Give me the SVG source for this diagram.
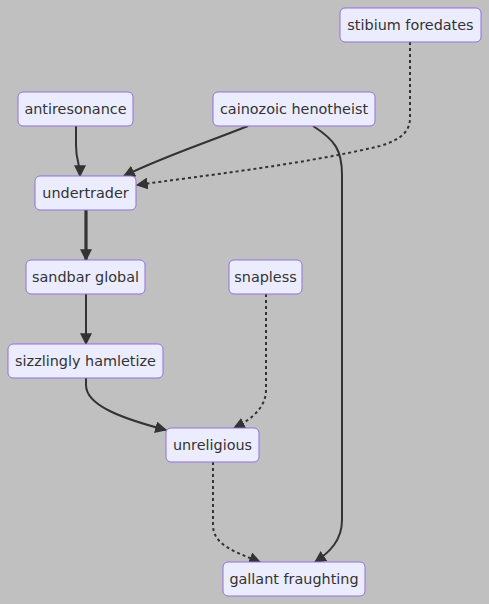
<svg xmlns="http://www.w3.org/2000/svg" width="489" height="604" viewBox="0 0 489 604">
<style>
.node rect{fill:#ECECFF;stroke:#9370DB;stroke-width:1}
.node text{font-family:"DejaVu Sans",Verdana,sans-serif;font-size:14.4px;fill:#333;text-anchor:middle;dominant-baseline:central}
.edge{fill:none;stroke:#333;stroke-width:2}
.thick{stroke-width:3.2}
.dot{stroke-dasharray:3 3}
</style>
<defs>
<marker id="arr" viewBox="0 0 10 10" refX="9" refY="5" markerUnits="userSpaceOnUse" markerWidth="12" markerHeight="12" orient="auto"><path d="M0,0 L10,5 L0,10 z" fill="#333"/></marker>
</defs>
<rect width="489" height="604" fill="#c0c0c0"/>
<g id="edges">
<path class="edge" d="M76,126 L76,145 C76,162 80,162 80,176" marker-end="url(#arr)"/>
<path class="edge" d="M248,126 C200,145 160,158 124,176" marker-end="url(#arr)"/>
<path class="edge dot" d="M410,42 L410,118 C410,132 400,140 380,146 C300,165 200,176 137,185" marker-end="url(#arr)"/>
<path class="edge" d="M313,126 C335,140 342,150 342,175 L342,520 C342,540 330,552 315,562" marker-end="url(#arr)"/>
<path class="edge thick" d="M86,210 L86,260" marker-end="url(#arr)"/>
<path class="edge" d="M86,294 L86,344" marker-end="url(#arr)"/>
<path class="edge" d="M86,378 L86,385 C86,405 120,418 166,430" marker-end="url(#arr)"/>
<path class="edge dot" d="M266,294 L266,390 C266,405 255,418 234,428" marker-end="url(#arr)"/>
<path class="edge dot" d="M213,462 L213,525 C213,545 235,552 260,562" marker-end="url(#arr)"/>
</g>
<g id="stibium" class="node"><rect x="340" y="8" width="141" height="34" rx="5"/><text x="410.5" y="25">stibium foredates</text></g>
<g id="antiresonance" class="node"><rect x="18" y="92" width="115" height="34" rx="5"/><text x="75.5" y="109">antiresonance</text></g>
<g id="cainozoic" class="node"><rect x="213" y="92" width="162" height="34" rx="5"/><text x="294" y="109">cainozoic henotheist</text></g>
<g id="undertrader" class="node"><rect x="35" y="176" width="101" height="34" rx="5"/><text x="85.5" y="193">undertrader</text></g>
<g id="sandbar" class="node"><rect x="26" y="260" width="119" height="34" rx="5"/><text x="85.5" y="277">sandbar global</text></g>
<g id="snapless" class="node"><rect x="229" y="260" width="73" height="34" rx="5"/><text x="265.5" y="277">snapless</text></g>
<g id="sizzlingly" class="node"><rect x="8" y="344" width="155" height="34" rx="5"/><text x="85.5" y="361">sizzlingly hamletize</text></g>
<g id="unreligious" class="node"><rect x="166" y="428" width="93" height="34" rx="5"/><text x="212.5" y="445">unreligious</text></g>
<g id="gallant" class="node"><rect x="223" y="562" width="142" height="34" rx="5"/><text x="294" y="579">gallant fraughting</text></g>
</svg>
